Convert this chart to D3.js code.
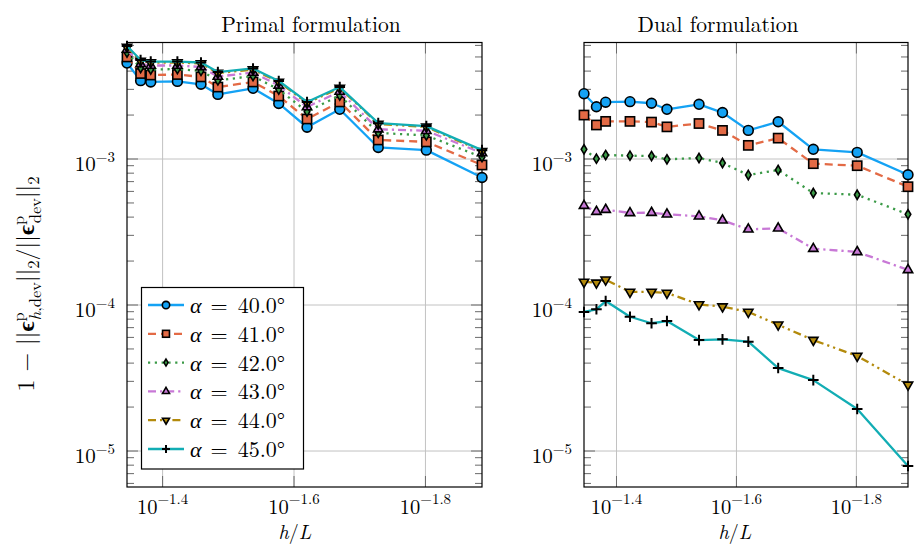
<!DOCTYPE html>
<html>
<head>
<meta charset="utf-8">
<script src="https://cdn.jsdelivr.net/npm/d3@7"></script>
<style>
  body { margin: 0; background: #fff; }
  svg { font-family: 'Latin Modern Roman', 'CMU Serif', 'Liberation Serif', serif; }
</style>
</head>
<body>
<div id="chart"></div>
<script>
// h/L values (x axis, reversed log)
const hL = [0.0451, 0.0430, 0.0415, 0.0378, 0.0348, 0.0328, 0.0290, 0.0265, 0.0240, 0.0214, 0.0187, 0.0158, 0.0130];

const alphas = [40, 41, 42, 43, 44, 45];

// primal formulation
const primal40 = [4.54e-3, 3.44e-3, 3.37e-3, 3.40e-3, 3.25e-3, 2.77e-3, 3.05e-3, 2.40e-3, 1.65e-3, 2.19e-3, 1.20e-3, 1.15e-3, 0.747e-3];
const primal41 = [5.00e-3, 3.85e-3, 3.76e-3, 3.79e-3, 3.65e-3, 3.11e-3, 3.37e-3, 2.70e-3, 1.88e-3, 2.46e-3, 1.35e-3, 1.31e-3, 0.91e-3];
const primal42 = [5.36e-3, 4.20e-3, 4.10e-3, 4.13e-3, 4.01e-3, 3.45e-3, 3.70e-3, 2.99e-3, 2.11e-3, 2.72e-3, 1.51e-3, 1.45e-3, 1.03e-3];
const primal43 = [5.62e-3, 4.48e-3, 4.37e-3, 4.37e-3, 4.27e-3, 3.67e-3, 3.91e-3, 3.19e-3, 2.27e-3, 2.90e-3, 1.60e-3, 1.56e-3, 1.10e-3];
const primal44 = [5.85e-3, 4.69e-3, 4.58e-3, 4.58e-3, 4.51e-3, 3.88e-3, 4.10e-3, 3.37e-3, 2.42e-3, 3.06e-3, 1.74e-3, 1.66e-3, 1.13e-3];
const primal45 = [5.94e-3, 4.76e-3, 4.65e-3, 4.65e-3, 4.58e-3, 3.94e-3, 4.17e-3, 3.42e-3, 2.46e-3, 3.11e-3, 1.76e-3, 1.68e-3, 1.15e-3];

// dual formulation
const dual40 = [2.80e-3, 2.28e-3, 2.45e-3, 2.47e-3, 2.41e-3, 2.19e-3, 2.37e-3, 2.08e-3, 1.57e-3, 1.80e-3, 1.165e-3, 1.11e-3, 0.78e-3];
const dual41 = [2.00e-3, 1.71e-3, 1.81e-3, 1.81e-3, 1.79e-3, 1.66e-3, 1.75e-3, 1.57e-3, 1.24e-3, 1.39e-3, 0.929e-3, 0.90e-3, 0.646e-3];
const dual42 = [1.165e-3, 1.005e-3, 1.065e-3, 1.054e-3, 1.048e-3, 0.995e-3, 1.016e-3, 0.939e-3, 0.777e-3, 0.841e-3, 0.585e-3, 0.569e-3, 0.418e-3];
const dual43 = [4.79e-4, 4.36e-4, 4.50e-4, 4.27e-4, 4.29e-4, 4.18e-4, 4.05e-4, 3.80e-4, 3.30e-4, 3.35e-4, 2.43e-4, 2.31e-4, 1.74e-4];
const dual44 = [1.44e-4, 1.42e-4, 1.49e-4, 1.23e-4, 1.23e-4, 1.21e-4, 1.01e-4, 0.975e-4, 0.896e-4, 0.733e-4, 0.575e-4, 0.448e-4, 0.284e-4];
const dual45 = [8.96e-5, 9.35e-5, 1.065e-4, 8.31e-5, 7.50e-5, 7.77e-5, 5.75e-5, 5.82e-5, 5.61e-5, 3.70e-5, 3.06e-5, 1.94e-5, 7.9e-6];

const yMajor = [1e-3, 1e-4, 1e-5];
const yMajorExp = ["−3", "−4", "−5"];
const xMajor = [Math.pow(10, -1.4), Math.pow(10, -1.6), Math.pow(10, -1.8)];
const xMajorExp = ["−1.4", "−1.6", "−1.8"];

// look of each series
const styles = [
  {color: "#14a2f4", dash: null,              mark: "circle"},
  {color: "#e36a45", dash: "8,5",             mark: "square"},
  {color: "#3b9a47", dash: "2.2,4.6",         mark: "diamond"},
  {color: "#c878d6", dash: "8,4,2.2,4",       mark: "tri"},
  {color: "#b38a0c", dash: "8,4,2.2,4,2.2,4", mark: "tridown"},
  {color: "#12adb4", dash: null,              mark: "plus"}
];

const width = 917, height = 544;
const yTop = 42.5, yBottom = 487;

const svg = d3.select("#chart")
  .append("svg")
    .attr("width", width)
    .attr("height", height);

const y = d3.scaleLog().domain([5.67e-6, 6.28e-3]).range([yBottom, yTop]);

function drawMark(g, type, cx, cy, color, s) {
  const sw = 1.6;
  if (type === "circle") {
    g.append("circle").attr("cx", cx).attr("cy", cy).attr("r", 4.9 * s)
      .attr("fill", color).attr("stroke", "#000").attr("stroke-width", sw);
  } else if (type === "square") {
    const a = 4.6 * s;
    g.append("rect").attr("x", cx - a).attr("y", cy - a).attr("width", 2 * a).attr("height", 2 * a)
      .attr("fill", color).attr("stroke", "#000").attr("stroke-width", sw);
  } else if (type === "diamond") {
    const w = 2.8 * s, h = 4.6 * s;
    g.append("path").attr("d", `M${cx},${cy - h}L${cx + w},${cy}L${cx},${cy + h}L${cx - w},${cy}Z`)
      .attr("fill", color).attr("stroke", "#000").attr("stroke-width", sw);
  } else if (type === "tri" || type === "tridown") {
    const r = 5.4 * s, k = type === "tri" ? 1 : -1;
    g.append("path")
      .attr("d", `M${cx},${cy - k * r}L${cx + 0.866 * r},${cy + k * 0.5 * r}L${cx - 0.866 * r},${cy + k * 0.5 * r}Z`)
      .attr("fill", color).attr("stroke", "#000").attr("stroke-width", sw).attr("stroke-linejoin", "miter");
  } else if (type === "plus") {
    const a = 5.3 * s;
    g.append("path").attr("d", `M${cx - a},${cy}H${cx + a}M${cx},${cy - a}V${cy + a}`)
      .attr("fill", "none").attr("stroke", "#000").attr("stroke-width", 2);
  }
}

function drawPanel(p) {
  const x = d3.scaleLog().domain([hL[0], hL[hL.length - 1]]).range([p.x0, p.x1]);
  const g = svg.append("g");

  // grid
  g.append("g").selectAll("line.gx").data(xMajor).enter().append("line")
    .attr("x1", d => x(d)).attr("x2", d => x(d)).attr("y1", yTop).attr("y2", yBottom)
    .attr("stroke", "#c2c2c2").attr("stroke-width", 1);
  g.append("g").selectAll("line.gy").data(yMajor).enter().append("line")
    .attr("x1", p.x0).attr("x2", p.x1).attr("y1", d => y(d)).attr("y2", d => y(d))
    .attr("stroke", "#c2c2c2").attr("stroke-width", 1);

  // minor y ticks, both sides
  const minors = [];
  for (let k = -6; k <= -3; k++) for (let m = 2; m <= 9; m++) {
    const v = m * Math.pow(10, k);
    if (v > y.domain()[0] && v < y.domain()[1]) minors.push(v);
  }
  const tk = g.append("g").attr("stroke", "#6a6a6a").attr("stroke-width", 1);
  minors.forEach(v => {
    tk.append("line").attr("x1", p.x0).attr("x2", p.x0 + 7).attr("y1", y(v)).attr("y2", y(v));
    tk.append("line").attr("x1", p.x1).attr("x2", p.x1 - 7).attr("y1", y(v)).attr("y2", y(v));
  });
  yMajor.forEach(v => {
    tk.append("line").attr("x1", p.x0).attr("x2", p.x0 + 11).attr("y1", y(v)).attr("y2", y(v));
    tk.append("line").attr("x1", p.x1).attr("x2", p.x1 - 11).attr("y1", y(v)).attr("y2", y(v));
  });
  xMajor.forEach(v => {
    tk.append("line").attr("x1", x(v)).attr("x2", x(v)).attr("y1", yBottom).attr("y2", yBottom - 11);
    tk.append("line").attr("x1", x(v)).attr("x2", x(v)).attr("y1", yTop).attr("y2", yTop + 11);
  });

  // frame
  g.append("rect").attr("x", p.x0).attr("y", yTop).attr("width", p.x1 - p.x0).attr("height", yBottom - yTop)
    .attr("fill", "none").attr("stroke", "#000").attr("stroke-width", 1.2);

  // tick labels
  yMajor.forEach((v, i) => {
    const t = g.append("text").attr("x", p.x0 - 12).attr("y", y(v) + 12)
      .attr("text-anchor", "end").attr("font-size", 21);
    t.append("tspan").text("10");
    t.append("tspan").attr("font-size", 15).attr("dy", -9).text(yMajorExp[i]);
  });
  xMajor.forEach((v, i) => {
    const t = g.append("text").attr("x", x(v)).attr("y", 514)
      .attr("text-anchor", "middle").attr("font-size", 20.5);
    t.append("tspan").text("10");
    t.append("tspan").attr("font-size", 15).attr("dy", -10).text(xMajorExp[i]);
  });

  // title and x label
  g.append("text").attr("x", p.titleX).attr("y", 32).attr("text-anchor", "middle")
    .attr("font-size", 21.5).text(p.title);
  const xl = g.append("text").attr("x", p.labelX).attr("y", 539).attr("text-anchor", "middle")
    .attr("font-size", 20);
  xl.append("tspan").attr("font-style", "italic").text("h");
  xl.append("tspan").text("/");
  xl.append("tspan").attr("font-style", "italic").text("L");

  // series
  const line = d3.line().x((d, i) => x(hL[i])).y(d => y(d));
  p.series.forEach((vals, si) => {
    const st = styles[si];
    const sg = g.append("g");
    sg.append("path").datum(vals).attr("d", line)
      .attr("fill", "none").attr("stroke", st.color).attr("stroke-width", 2.3)
      .attr("stroke-dasharray", st.dash).attr("stroke-linejoin", "round");
    vals.forEach((v, i) => drawMark(sg, st.mark, x(hL[i]), y(v), st.color, 1));
  });
}

drawPanel({title: "Primal formulation", x0: 127, x1: 482, titleX: 311, labelX: 295,
  series: [primal40, primal41, primal42, primal43, primal44, primal45]});
drawPanel({title: "Dual formulation", x0: 584, x1: 908, titleX: 718, labelX: 735,
  series: [dual40, dual41, dual42, dual43, dual44, dual45]});

// legend (primal panel)
const lg = svg.append("g");
lg.append("rect").attr("x", 141.5).attr("y", 287.5).attr("width", 162).attr("height", 181.5)
  .attr("fill", "#fff").attr("stroke", "#000").attr("stroke-width", 1.2);
alphas.forEach((a, i) => {
  const ly = 305 + i * 28.8, st = styles[i];
  lg.append("line").attr("x1", 148).attr("x2", 184).attr("y1", ly).attr("y2", ly)
    .attr("stroke", st.color).attr("stroke-width", 2.3).attr("stroke-dasharray", st.dash);
  drawMark(lg, st.mark, 166, ly, st.color, 0.75);
  const t = lg.append("text").attr("x", 190).attr("y", ly + 8).attr("font-size", 22);
  t.append("tspan").attr("font-style", "italic").text("α");
  t.append("tspan").attr("dx", 9).text("=");
  t.append("tspan").attr("dx", 10).text(a.toFixed(1) + "°");
});

// y label
const yl = svg.append("text")
  .attr("transform", "translate(34,284) rotate(-90)")
  .attr("text-anchor", "middle").attr("font-size", 24);
yl.append("tspan").text("1 − ||");
yl.append("tspan").attr("font-weight", "bold").text("ϵ");
yl.append("tspan").attr("font-size", 16.5).attr("dy", -10).text("p");
yl.append("tspan").attr("font-size", 16.5).attr("font-style", "italic").attr("dx", -8).attr("dy", 17).text("h");
yl.append("tspan").attr("font-size", 16.5).text(",dev");
yl.append("tspan").attr("dy", -7).text("||");
yl.append("tspan").attr("font-size", 16.5).attr("dy", 5).text("2");
yl.append("tspan").attr("dy", -5).text("/||");
yl.append("tspan").attr("font-weight", "bold").text("ϵ");
yl.append("tspan").attr("font-size", 16.5).attr("dy", -10).text("p");
yl.append("tspan").attr("font-size", 16.5).attr("dx", -8).attr("dy", 17).text("dev");
yl.append("tspan").attr("dy", -7).text("||");
yl.append("tspan").attr("font-size", 16.5).attr("dy", 5).text("2");
</script>
</body>
</html>
